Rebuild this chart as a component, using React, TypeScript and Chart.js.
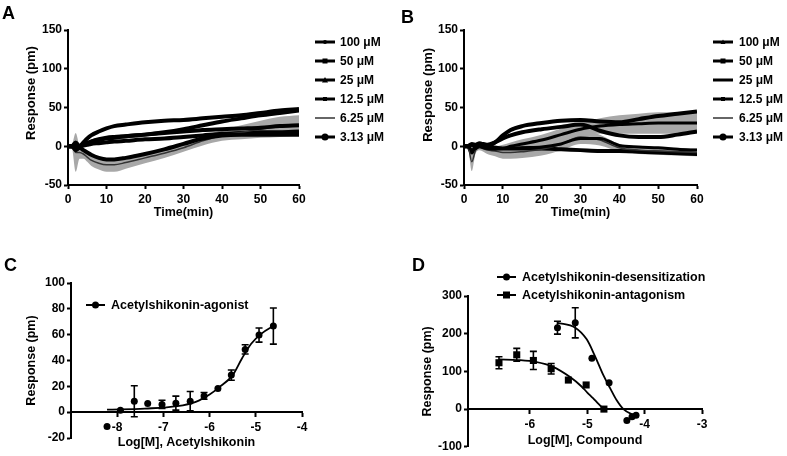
import React, { useEffect, useRef } from "react";
import { Chart, registerables } from "chart.js";

Chart.register(...registerables);

const SANS = "'Liberation Sans', Arial, Helvetica, sans-serif";

// ===== Panels A & B: response over time =====
const timeMin = [0, 1, 2, 3, 4, 5, 6, 8, 10, 12, 15, 20, 25, 30, 35, 40, 45, 50, 55, 60];
const timeTicks = [0, 10, 20, 30, 40, 50, 60];
const responseTicks = [-50, 0, 50, 100, 150];
const concLabels = ["100 μM", "50 μM", "25 μM", "12.5 μM", "6.25 μM", "3.13 μM"];

// Panel A
const aResp100 = [0, 0, 2, 0, 5, 10, 14, 19, 23, 26, 28, 31, 33, 34, 36, 38, 40, 43, 46, 48];
const aResp50 = [0, 0, -2, 0, 2, 4, 6, 8, 10, 11, 13, 15, 18, 22, 27, 32, 36, 40, 43, 46];
const aResp25 = [0, 0, 5, 0, 2, 4, 6, 9, 11, 12, 13, 15, 17, 19, 21, 22, 23, 24, 26, 27];
const aResp12_5 = [0, 0, -5, -2, -5, -8, -11, -15, -17, -17, -15, -10, -4, 3, 10, 14, 15, 15, 15, 15];
const aResp6_25 = [0, 0, -8, -8, -10, -14, -18, -22, -24, -24, -21, -15, -9, -2, 7, 14, 18, 22, 25, 27];
const aErr6_25 = [0, 2, 25, 8, 6, 6, 7, 8, 9, 9, 8, 7, 6, 5, 6, 7, 9, 11, 13, 13];
const aResp3_13 = [0, 0, 1, 0, 1, 2, 3, 4, 5, 6, 7, 9, 10, 12, 14, 16, 17, 18, 18, 19];

// Panel B
const bResp100 = [0, 0, 3, 2, 4, 2, 0, 5, 14, 21, 26, 30, 33, 34, 32, 31, 35, 39, 42, 45];
const bResp50 = [0, 0, 2, 0, 3, 3, 2, 5, 10, 14, 18, 22, 25, 28, 20, 14, 12, 12, 15, 19];
const bResp25 = [0, 0, -5, -3, 0, -2, -3, -4, -3, 0, 3, 8, 15, 22, 26, 28, 29, 30, 30, 30];
const bErr25 = [0, 1, 5, 3, 3, 3, 3, 4, 5, 5, 6, 7, 8, 8, 10, 12, 13, 14, 14, 14];
const bResp12_5 = [0, 0, 2, 0, 2, 1, 0, -2, -3, -3, -2, -1, 3, 10, 10, 1, -1, -2, -4, -5];
const bResp6_25 = [0, 0, -20, -5, -2, -3, -5, -6, -8, -8, -7, -4, 3, 12, 8, -2, -5, -6, -7, -8];
const bErr6_25 = [0, 1, 12, 4, 3, 4, 5, 7, 8, 8, 8, 8, 8, 9, 7, 5, 5, 5, 5, 5];
const bResp3_13 = [0, 0, -8, 0, 3, 2, 0, -2, -3, -3, -3, -3, -4, -5, -6, -6, -7, -8, -9, -10];

// ===== Panel C: agonist dose-response =====
const cTicksX = [-8, -7, -6, -5, -4];
const cTicksY = [-20, 0, 20, 40, 60, 80, 100];
const cLogM = [-8.22, -7.93, -7.63, -7.34, -7.03, -6.73, -6.42, -6.12, -5.82, -5.53, -5.23, -4.93, -4.62];
const cResp = [-11, 1.5, 8.5, 6.7, 6, 7, 8.5, 12.6, 18.3, 28.7, 48.6, 59.7, 66.7];
const cErr = [0, 0, 12, 0, 3.2, 5.4, 7.5, 2.6, 0, 4, 3.6, 5.5, 14];
const cFitLogM = [-8.22, -7.4, -6.7, -6.3, -6.0, -5.8, -5.5, -5.3, -5.1, -4.87, -4.62];
const cFitResp = [2, 2.8, 4.6, 8, 13.7, 19, 28.7, 41.6, 53, 61, 66.7];

// ===== Panel D: desensitization / antagonism =====
const dTicksX = [-6, -5, -4, -3];
const dTicksY = [-100, 0, 100, 200, 300];
const dDesLogM = [-5.52, -5.21, -4.92, -4.62, -4.31, -4.22, -4.15];
const dDesResp = [216, 229, 135, 70, -30, -20, -16];
const dDesErr = [17, 40, 0, 0, 0, 0, 0];
const dDesFitLogM = [-5.52, -5.21, -5.01, -4.87, -4.72, -4.6, -4.49, -4.37, -4.17];
const dDesFitResp = [229, 216, 185, 142, 90, 55, 24, 0, -18];
const dAntLogM = [-6.54, -6.23, -5.94, -5.63, -5.33, -5.02, -4.71];
const dAntResp = [123, 144, 129, 107, 77, 64, 0];
const dAntErr = [16, 17, 24, 14, 0, 0, 0];
const dAntFitLogM = [-6.54, -6.2, -5.9, -5.6, -5.3, -5.1, -5.0, -4.9, -4.8, -4.71];
const dAntFitResp = [132, 130, 125, 112, 85, 60, 44, 29, 13, 0];

type Pt = { x: number; y: number };
const pts = (xs: number[], ys: number[]): Pt[] => xs.map((x, i) => ({ x, y: ys[i] }));

function drawMarker(ctx: CanvasRenderingContext2D, style: string, x: number, y: number, r: number) {
  ctx.beginPath();
  if (style === "circle") {
    ctx.arc(x, y, r, 0, Math.PI * 2);
    ctx.fill();
  } else if (style === "rect") {
    ctx.fillRect(x - r, y - r, 2 * r, 2 * r);
  } else if (style === "triangle") {
    ctx.moveTo(x, y - r);
    ctx.lineTo(x + r, y + r * 0.8);
    ctx.lineTo(x - r, y + r * 0.8);
    ctx.closePath();
    ctx.fill();
  }
}

const legendPlugin = {
  id: "customLegend",
  afterDraw(chart: any, _args: any, opts: any) {
    if (!opts || opts.x === undefined) return;
    const ctx: CanvasRenderingContext2D = chart.ctx;
    const items = chart.data.datasets.filter((d: any) => d.legendMarker);
    ctx.save();
    items.forEach((d: any, i: number) => {
      const y = opts.y + i * opts.dy;
      ctx.strokeStyle = d.legendColor || "#000";
      ctx.fillStyle = d.legendColor || "#000";
      ctx.lineWidth = d.legendWidth || 2;
      ctx.beginPath();
      ctx.moveTo(opts.x, y);
      ctx.lineTo(opts.x + opts.len, y);
      ctx.stroke();
      drawMarker(ctx, d.legendMarker, opts.x + opts.len / 2, y, d.legendR || 3);
      ctx.fillStyle = "#000";
      ctx.font = `bold ${opts.fontSize}px ${SANS}`;
      ctx.textBaseline = "middle";
      ctx.textAlign = "left";
      ctx.fillText(d.label, opts.textX, y + 0.5);
    });
    ctx.restore();
  },
};

const errorBarPlugin = {
  id: "errorBars",
  afterDatasetsDraw(chart: any) {
    const ctx: CanvasRenderingContext2D = chart.ctx;
    chart.data.datasets.forEach((ds: any, di: number) => {
      if (!ds.errorBars) return;
      const meta = chart.getDatasetMeta(di);
      const yScale = chart.scales[meta.yAxisID];
      ctx.save();
      ctx.strokeStyle = "#000";
      ctx.lineWidth = 1.6;
      meta.data.forEach((el: any, i: number) => {
        const e = ds.errorBars[i];
        if (!e) return;
        const v = ds.data[i].y;
        const x = el.x;
        const y1 = yScale.getPixelForValue(v + e);
        const y2 = yScale.getPixelForValue(v - e);
        ctx.beginPath();
        ctx.moveTo(x, y1);
        ctx.lineTo(x, y2);
        ctx.moveTo(x - 3.5, y1);
        ctx.lineTo(x + 3.5, y1);
        ctx.moveTo(x - 3.5, y2);
        ctx.lineTo(x + 3.5, y2);
        ctx.stroke();
      });
      ctx.restore();
    });
  },
};

function linAxis(o: {
  min: number; max: number; ticks: number[]; title: string; titleSize: number;
  titlePad: any; size: number; horizontal: boolean; tickPad: number; position?: any;
}) {
  return {
    type: "linear",
    position: o.position,
    min: o.min,
    max: o.max,
    afterBuildTicks: (s: any) => {
      s.ticks = o.ticks.map((v) => ({ value: v }));
    },
    afterFit: (s: any) => {
      if (o.horizontal) s.height = o.size;
      else s.width = o.size;
    },
    ticks: {
      color: "#000",
      font: { family: SANS, size: 12, weight: "bold" },
      padding: o.tickPad,
      maxRotation: 0,
      autoSkip: false,
    },
    grid: { display: true, drawOnChartArea: false, drawTicks: true, tickLength: 4, tickWidth: 2, tickColor: "#000", color: "#000" },
    border: { display: true, color: "#000", width: 2 },
    title: {
      display: true,
      text: o.title,
      color: "#000",
      font: { family: SANS, size: o.titleSize, weight: "bold" },
      padding: o.titlePad,
    },
  };
}

type Line = { label: string; data: number[]; width: number; color: string; marker: string; r: number };
type Band = { mean: number[]; err: number[] };

function timeConfig(bands: Band[], lines: Line[], geo: { yWidth: number; padRight: number; yTitlePad: number; yTitle: string; legend: any }) {
  const datasets: any[] = [];
  bands.forEach((b) => {
    datasets.push({
      data: pts(timeMin, b.mean.map((m, i) => m + b.err[i])),
      fill: "+1",
      backgroundColor: "#a8a8a8",
      borderColor: "rgba(0,0,0,0)",
      borderWidth: 1,
      pointRadius: 0,
      cubicInterpolationMode: "monotone",
      order: 10,
    });
    datasets.push({
      data: pts(timeMin, b.mean.map((m, i) => m - b.err[i])),
      fill: false,
      borderColor: "rgba(0,0,0,0)",
      borderWidth: 1,
      pointRadius: 0,
      cubicInterpolationMode: "monotone",
      order: 10,
    });
  });
  lines.forEach((l) => {
    datasets.push({
      label: l.label,
      data: pts(timeMin, l.data),
      borderColor: l.color,
      borderWidth: l.width,
      pointRadius: 0,
      fill: false,
      cubicInterpolationMode: "monotone",
      order: 1,
      legendMarker: l.marker,
      legendR: l.r,
      legendWidth: Math.min(l.width, 3),
      legendColor: l.color,
    });
  });
  return {
    type: "line",
    data: { datasets },
    plugins: [legendPlugin],
    options: {
      animation: false,
      responsive: false,
      devicePixelRatio: 1,
      events: [],
      layout: { padding: { top: 30, right: geo.padRight, bottom: 0, left: 0 } },
      plugins: { legend: { display: false }, tooltip: { enabled: false }, customLegend: geo.legend },
      scales: {
        x: linAxis({ min: 0, max: 60, ticks: timeTicks, title: "Time(min)", titleSize: 12.5, titlePad: { top: 0, bottom: 0 }, size: 35, horizontal: true, tickPad: 3, position: "bottom" }),
        y: linAxis({ min: -50, max: 150, ticks: responseTicks, title: geo.yTitle, titleSize: 13, titlePad: { top: geo.yTitlePad, bottom: 0 }, size: geo.yWidth, horizontal: false, tickPad: 2, position: "left" }),
      },
    },
  };
}

const configA = timeConfig(
  [{ mean: aResp6_25, err: aErr6_25 }],
  [
    { label: concLabels[0], data: aResp100, width: 4, color: "#000", marker: "circle", r: 2 },
    { label: concLabels[1], data: aResp50, width: 4, color: "#000", marker: "rect", r: 2.5 },
    { label: concLabels[2], data: aResp25, width: 4, color: "#000", marker: "triangle", r: 3 },
    { label: concLabels[3], data: aResp12_5, width: 4, color: "#000", marker: "rect", r: 2 },
    { label: concLabels[4], data: aResp6_25, width: 1.5, color: "#333", marker: "none", r: 0 },
    { label: concLabels[5], data: aResp3_13, width: 4, color: "#000", marker: "circle", r: 3.5 },
  ],
  { yWidth: 68, padRight: 91, yTitlePad: 24, yTitle: "        Response (pm)", legend: { x: 315, len: 20, textX: 340, y: 42, dy: 19, fontSize: 12 } }
);

const configB = timeConfig(
  [
    { mean: bResp25, err: bErr25 },
    { mean: bResp6_25, err: bErr6_25 },
  ],
  [
    { label: concLabels[0], data: bResp100, width: 4, color: "#000", marker: "triangle", r: 2.5 },
    { label: concLabels[1], data: bResp50, width: 4, color: "#000", marker: "rect", r: 2.5 },
    { label: concLabels[2], data: bResp25, width: 3, color: "#000", marker: "none", r: 0 },
    { label: concLabels[3], data: bResp12_5, width: 3, color: "#000", marker: "rect", r: 2 },
    { label: concLabels[4], data: bResp6_25, width: 1.5, color: "#333", marker: "none", r: 0 },
    { label: concLabels[5], data: bResp3_13, width: 4, color: "#000", marker: "circle", r: 3.5 },
  ],
  { yWidth: 74, padRight: 90, yTitlePad: 31, yTitle: "       Response (pm)", legend: { x: 323, len: 20, textX: 349, y: 42, dy: 19, fontSize: 12 } }
);

function doseConfig(o: {
  datasets: any[]; xMin: number; xMax: number; xTicks: number[]; yMin: number; yMax: number; yTicks: number[];
  xTitle: string; yWidth: number; yTitlePad: number; xHeight: number; pad: any; legend: any;
}) {
  return {
    type: "line",
    data: { datasets: o.datasets },
    plugins: [errorBarPlugin, legendPlugin],
    options: {
      animation: false,
      responsive: false,
      devicePixelRatio: 1,
      events: [],
      layout: { padding: o.pad },
      plugins: { legend: { display: false }, tooltip: { enabled: false }, customLegend: o.legend },
      scales: {
        x: linAxis({ min: o.xMin, max: o.xMax, ticks: o.xTicks, title: o.xTitle, titleSize: 12.5, titlePad: { top: 0, bottom: 0 }, size: o.xHeight, horizontal: true, tickPad: 4, position: { y: 0 } }),
        y: linAxis({ min: o.yMin, max: o.yMax, ticks: o.yTicks, title: "Response (pm)", titleSize: 12.5, titlePad: { top: o.yTitlePad, bottom: 0 }, size: o.yWidth, horizontal: false, tickPad: 2, position: "left" }),
      },
    },
  };
}

const fitLine = (xs: number[], ys: number[]) => ({
  data: pts(xs, ys),
  borderColor: "#000",
  borderWidth: 1.8,
  pointRadius: 0,
  fill: false,
  cubicInterpolationMode: "monotone",
  clip: false,
});

const pointSet = (label: string, xs: number[], ys: number[], errs: number[], style: string, r: number, lr: number) => ({
  label,
  data: pts(xs, ys),
  showLine: false,
  pointStyle: style,
  pointRadius: r,
  pointBackgroundColor: "#000",
  pointBorderColor: "#000",
  pointBorderWidth: 0,
  errorBars: errs,
  legendMarker: style,
  legendR: lr,
  legendWidth: 2,
  clip: false,
});

const configC = doseConfig({
  datasets: [fitLine(cFitLogM, cFitResp), pointSet("Acetylshikonin-agonist", cLogM, cResp, cErr, "circle", 3.5, 3.5)],
  xMin: -9, xMax: -4, xTicks: cTicksX, yMin: -20, yMax: 100, yTicks: cTicksY,
  xTitle: "Log[M], Acetylshikonin", yWidth: 71, yTitlePad: 24.5, xHeight: 37.5,
  pad: { top: 63, right: 88, bottom: 18, left: 0 },
  legend: { x: 86, len: 19, textX: 111, y: 85, dy: 18, fontSize: 12.5 },
});

const configD = doseConfig({
  datasets: [
    fitLine(dDesFitLogM, dDesFitResp),
    fitLine(dAntFitLogM, dAntFitResp),
    pointSet("Acetylshikonin-desensitization", dDesLogM, dDesResp, dDesErr, "circle", 3.5, 3.5),
    pointSet("Acetylshikonin-antagonism", dAntLogM, dAntResp, dAntErr, "rect", 5, 3.5),
  ],
  xMin: -7.08, xMax: -3, xTicks: dTicksX, yMin: -100, yMax: 300, yTicks: dTicksY,
  xTitle: "Log[M], Compound", yWidth: 78, yTitlePad: 30.5, xHeight: 38.5,
  pad: { top: 76, right: 85, bottom: 7, left: 0 },
  legend: { x: 107, len: 19, textX: 132, y: 57, dy: 18, fontSize: 12.5 },
});

function ChartCanvas({ left, top, width, height, config }: { left: number; top: number; width: number; height: number; config: any }) {
  const ref = useRef<HTMLCanvasElement>(null);
  useEffect(() => {
    const chart = new Chart(ref.current as HTMLCanvasElement, config);
    return () => chart.destroy();
  }, [config]);
  return (
    <canvas
      ref={ref}
      width={width}
      height={height}
      style={{ position: "absolute", left, top, width, height, display: "block" }}
    />
  );
}

const letterStyle = (left: number, top: number): React.CSSProperties => ({
  position: "absolute",
  left,
  top,
  fontFamily: SANS,
  fontWeight: "bold",
  fontSize: 18,
  lineHeight: "18px",
  color: "#000",
});

export default function App() {
  return (
    <div style={{ position: "absolute", left: 0, top: 0, width: 787, height: 456, background: "#fff", overflow: "hidden" }}>
      <ChartCanvas left={0} top={0} width={390} height={220} config={configA} />
      <ChartCanvas left={390} top={0} width={397} height={220} config={configB} />
      <ChartCanvas left={0} top={220} width={390} height={236} config={configC} />
      <ChartCanvas left={390} top={220} width={397} height={236} config={configD} />
      <div style={letterStyle(2, 4)}>A</div>
      <div style={letterStyle(401, 8)}>B</div>
      <div style={letterStyle(4, 256)}>C</div>
      <div style={letterStyle(412, 256)}>D</div>
    </div>
  );
}
